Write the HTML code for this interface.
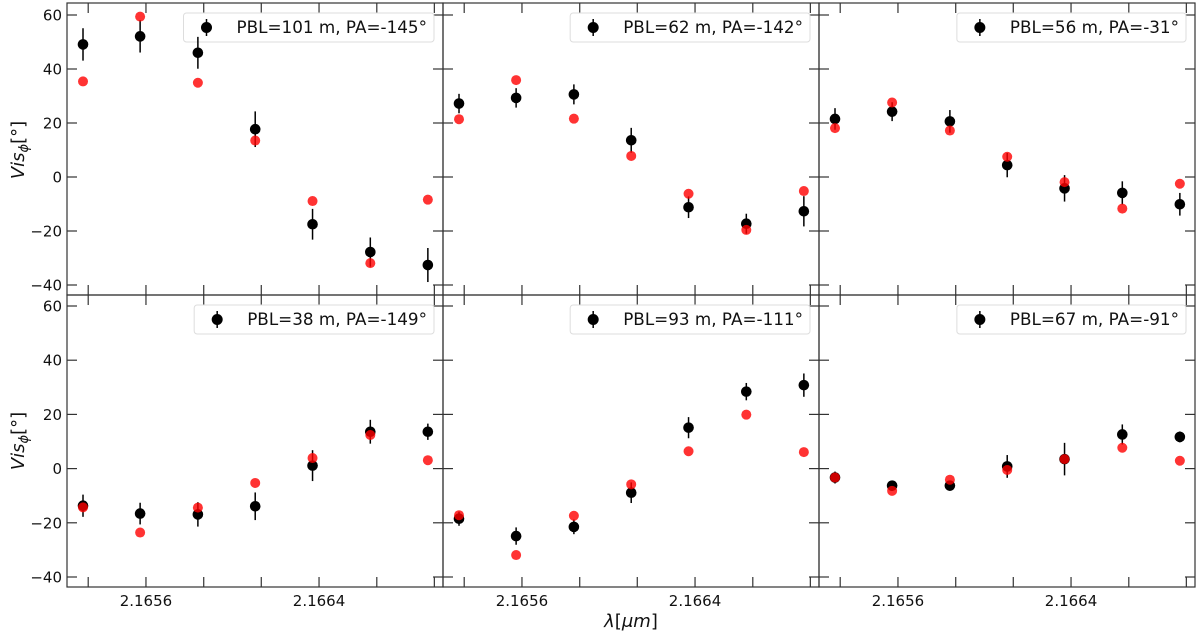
<!DOCTYPE html>
<html><head><meta charset="utf-8"><style>
html,body{margin:0;padding:0;background:#fff;}
svg{display:block;font-family:"DejaVu Sans","Liberation Sans",sans-serif;}
</style></head><body>
<svg id="chart" width="1200" height="633" viewBox="0 0 1200 633" xmlns="http://www.w3.org/2000/svg"></svg>
<script>
const wavelengths=[2.165309,2.165573,2.165840,2.166105,2.166370,2.166637,2.166903];
const xTicks=[2.165333,2.1656,2.165867,2.166133,2.1664,2.166667,2.166933];
const xTickLabels=["","2.1656","","","2.1664","",""];
const yTicks=[-40,-20,0,20,40,60];
const panelLabels=["PBL=101 m, PA=-145°","PBL=62 m, PA=-142°","PBL=56 m, PA=-31°","PBL=38 m, PA=-149°","PBL=93 m, PA=-111°","PBL=67 m, PA=-91°"];
const obs1=[49.1,52.1,46.0,17.7,-17.5,-27.8,-32.6];
const err1=[6.0,6.0,5.9,6.6,5.7,5.4,6.3];
const mod1=[35.4,59.4,34.9,13.5,-8.9,-31.9,-8.4];
const obs2=[27.2,29.3,30.6,13.6,-11.2,-17.3,-12.7];
const err2=[3.6,3.6,3.7,4.6,4.0,3.7,5.6];
const mod2=[21.4,35.9,21.6,7.8,-6.2,-19.6,-5.2];
const obs3=[21.5,24.2,20.6,4.4,-4.2,-5.9,-10.1];
const err3=[4.0,3.5,4.2,4.5,4.9,4.3,4.2];
const mod3=[18.1,27.6,17.2,7.5,-1.9,-11.7,-2.5];
const obs4=[-13.7,-16.6,-16.9,-13.9,1.1,13.6,13.6];
const err4=[4.1,4.0,4.5,5.1,5.7,4.4,3.0];
const mod4=[-14.3,-23.6,-14.4,-5.3,3.9,12.4,3.1];
const obs5=[-18.5,-24.9,-21.5,-8.9,15.1,28.4,30.8];
const err5=[2.6,3.2,2.7,3.8,3.9,3.2,4.3];
const mod5=[-17.2,-31.9,-17.4,-5.8,6.4,19.9,6.1];
const obs6=[-3.3,-6.3,-6.3,0.8,3.5,12.6,11.7];
const err6=[2.2,1.0,1.5,4.2,6.0,3.7,2.0];
const mod6=[-3.3,-8.2,-4.1,-0.5,3.5,7.7,2.9];
const obsAll=[obs1,obs2,obs3,obs4,obs5,obs6];
const errAll=[err1,err2,err3,err4,err5,err6];
const modAll=[mod1,mod2,mod3,mod4,mod5,mod6];

const NS="http://www.w3.org/2000/svg";
const svg=document.getElementById('chart');
function mk(tag,attrs,parent){const e=document.createElementNS(NS,tag);for(const k in attrs)e.setAttribute(k,attrs[k]);(parent||svg).appendChild(e);return e;}
const colsX=[67,443,819], pw=376;
const rows=[{top:3,bot:295,y60:15,y40:285},{top:295,bot:587,y60:306,y40:577}];
const xmin=2.165235,xmax=2.166973;
for(let p=0;p<6;p++){
  const c=p%3,r=Math.floor(p/3);
  const L=colsX[c],R=L+pw,T=rows[r].top,B=rows[r].bot;
  const sx=v=>L+(v-xmin)/(xmax-xmin)*pw;
  const sy=v=>rows[r].y60+(60-v)/100*(rows[r].y40-rows[r].y60);
  const g=mk('g',{});
  
  
  const fr=mk('rect',{x:L,y:T,width:pw,height:B-T,fill:'none',stroke:'#333','stroke-width':1.2},g);
  
  
  xTicks.forEach((t,i)=>{
    const x=sx(t);
    mk('line',{x1:x,x2:x,y1:T,y2:T+10,stroke:'#333','stroke-width':1.2},g);
    mk('line',{x1:x,x2:x,y1:B,y2:B-10,stroke:'#333','stroke-width':1.2},g);
    if(r===1&&xTickLabels[i]){
      const tx=mk('text',{x:x,y:B+19,'text-anchor':'middle','font-size':15,fill:'#111'},g);
      tx.textContent=xTickLabels[i];
      
      
    }
  });
  yTicks.forEach(t=>{
    const y=sy(t);
    mk('line',{x1:L,x2:L+10,y1:y,y2:y,stroke:'#333','stroke-width':1.2},g);
    mk('line',{x1:R,x2:R-10,y1:y,y2:y,stroke:'#333','stroke-width':1.2},g);
    if(c===0){
      const tx=mk('text',{x:L-5,y:y+5.5,'text-anchor':'end','font-size':15,fill:'#111'},g);
      tx.textContent=(t<0?'\u2212'+(-t):t);
      
      
    }
  });
  const lg=mk('g',{},g);
  
  
  const lt=mk('text',{x:R-9-7,y:T+30,'text-anchor':'end','font-size':16.8,fill:'#111'},lg);
  lt.textContent=panelLabels[p];
  const tw=lt.getComputedTextLength();
  const bx=R-9-7-tw-53;
  const lb=mk('rect',{x:bx,y:T+10,width:R-9-bx,height:29,rx:3,fill:'#fff','fill-opacity':0.8,stroke:'#ddd','stroke-width':1},lg);
  lg.insertBefore(lb,lt);
  mk('line',{x1:bx+23,x2:bx+23,y1:T+16,y2:T+33,stroke:'#000','stroke-width':1.5},lg);
  mk('circle',{cx:bx+23,cy:T+24.5,r:5.5,fill:'#000'},lg);
  const obs=obsAll[p],err=errAll[p],mod=modAll[p];
  wavelengths.forEach((w,i)=>{
    const x=sx(w);
    const el=mk('line',{x1:x,x2:x,y1:sy(obs[i]+err[i]),y2:sy(obs[i]-err[i]),stroke:'#000','stroke-width':1.5},g);
    
    
    const ci=mk('circle',{cx:x,cy:sy(obs[i]),r:5.3,fill:'#000'},g);
    
    
  });
  wavelengths.forEach((w,i)=>{
    const ci=mk('circle',{cx:sx(w),cy:sy(mod[i]),r:5,fill:'#ff0000','fill-opacity':0.8},g);
    
    
  });
}
[150,441].forEach(cy=>{
  const t=mk('text',{x:0,y:0,transform:'translate(24,'+cy+') rotate(-90)','text-anchor':'middle','font-size':18,fill:'#111'});
  
  
  t.innerHTML='<tspan font-style="italic">Vis</tspan><tspan font-style="italic" font-size="13" dy="4">ϕ</tspan><tspan dy="-4">[°]</tspan>';
});
const xt=mk('text',{x:631,y:627,'text-anchor':'middle','font-size':18,fill:'#111'});


xt.innerHTML='<tspan font-style="italic">λ</tspan>[<tspan font-style="italic">μm</tspan>]';
</script>
</body></html>
